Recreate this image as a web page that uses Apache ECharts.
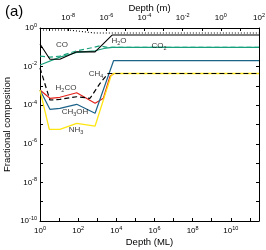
<!DOCTYPE html>
<html><head><meta charset="utf-8">
<script src="https://cdn.jsdelivr.net/npm/echarts@6/dist/echarts.min.js"></script>
<style>html,body{margin:0;padding:0;background:#fff}#c{width:266px;height:250px}</style>
</head><body><div id="c"></div>
<script>
// ---- data (depth in monolayers, fractional composition) ----
const depthMin = 1;
const depthMax = 3.0e11;
const metresPerML = 1 / 3.0e9;

const dottedDepth = [1, 29, 770, 3.0e11];
const dottedFrac  = [0.79, 0.79, 0.55, 0.55];

const h2oDepth = [1, 3.3, 11, 84, 770, 6000, 3.0e11];
const h2oFrac  = [0.148, 0.024, 0.024, 0.058, 0.058, 0.43, 0.43];

const coDepth = [1, 3.3, 11, 84, 530, 1400, 3700, 3.0e11];
const coFrac  = [0.035, 0.031, 0.035, 0.066, 0.095, 0.12, 0.098, 0.098];

const co2Depth = [1, 11, 84, 770, 2270, 6000, 3.0e11];
const co2Frac  = [0.0121, 0.031, 0.054, 0.066, 0.087, 0.098, 0.098];

const ch4Depth = [1, 3.3, 11, 84, 420, 1400, 3700, 3.0e11];
const ch4Frac  = [0.0085, 1.86e-4, 2.0e-4, 2.75e-4, 2.28e-4, 1.36e-3, 4.4e-3, 4.4e-3];

const h2coDepth = [1, 3.3, 11, 84, 770, 2100, 4700, 7600, 3.0e11];
const h2coFrac  = [6.1e-4, 2.28e-4, 2.57e-4, 4.4e-4, 1.25e-4, 2.28e-4, 3.2e-3, 4.4e-3, 4.4e-3];

const ch3ohDepth = [1, 3.3, 11, 84, 770, 7150, 3.0e11];
const ch3ohFrac  = [6.1e-4, 6.1e-5, 6.9e-5, 1.11e-4, 3.8e-5, 0.0202, 0.0202];

const nh3Depth = [1, 3.07, 11, 84, 770, 5300, 7150, 3.0e11];
const nh3Frac  = [6.1e-4, 5.6e-6, 5.6e-6, 1.15e-5, 8.3e-6, 3.3e-3, 4.4e-3, 4.4e-3];

const labelText  = ['CO', 'CO{sb|2}', 'H{sb|2}O', 'CH{sb|4}', 'H{sb|2}CO', 'CH{sb|3}OH', 'NH{sb|3}'];
const labelDepth = [14.3, 1.74e6, 13900, 864, 23, 68, 77];
const labelFrac  = [0.13, 0.117, 0.21, 0.00414, 7.8e-4, 4.4e-5, 5.2e-6];

const fracMinExp = -10, fracMaxExp = 0;

// ---- helpers ----
const FONT = 'Liberation Sans, Arial, Helvetica, sans-serif';
const L = Math.log10;
function pairs(d, f) { return d.map((x, i) => [L(x), L(f[i])]); }
function powLabel(v) {
  const r = Math.round(v);
  if (Math.abs(v - r) > 1e-6 || r % 2 !== 0) return '';
  return '{b|10}{s|' + (r < 0 ? '-' : '') + Math.abs(r) + '}';
}
const supRich = {
  b: { fontSize: 8, lineHeight: 12, fontFamily: FONT, color: '#000' },
  s: { fontSize: 5.5, lineHeight: 6, verticalAlign: 'top', fontFamily: FONT, color: '#000' }
};
const lineAxis = { show: true, onZero: false, lineStyle: { color: '#000', width: 1 } };
const tick = { show: true, inside: true, length: 3, lineStyle: { color: '#000', width: 1 } };
const nameStyle = { fontSize: 9.5, fontFamily: FONT, color: '#000' };

const chart = echarts.init(document.getElementById('c'), null, { renderer: 'canvas' });

function lineSeries(d, f, color, type, width, z) {
  return {
    type: 'line', data: pairs(d, f), symbol: 'none', silent: true, z: z,
    lineStyle: { color: color, width: width, type: type }
  };
}

chart.setOption({
  animation: false,
  title: { text: '(a)', left: 0, top: -1, textStyle: { fontSize: 15, fontWeight: 'normal', fontFamily: FONT, color: '#000' } },
  grid: { left: 40, right: 7, top: 28, bottom: 29, containLabel: false, outerBoundsMode: 'none' },
  xAxis: [
    {
      type: 'value', position: 'bottom', min: L(depthMin), max: L(depthMax), interval: 1,
      name: 'Depth (ML)', nameLocation: 'middle', nameGap: 16, nameMoveOverlap: false,
      nameTextStyle: nameStyle,
      axisLine: lineAxis, axisTick: tick, splitLine: { show: false },
      axisLabel: { margin: 4, formatter: powLabel, rich: supRich }
    },
    {
      type: 'value', position: 'top', min: L(depthMin * metresPerML), max: L(depthMax * metresPerML),
      splitNumber: 11, minInterval: 1, maxInterval: 1,
      name: 'Depth (m)', nameLocation: 'middle', nameGap: 15, nameMoveOverlap: false,
      nameTextStyle: nameStyle,
      axisLine: lineAxis, axisTick: tick, splitLine: { show: false },
      axisLabel: { margin: 4, formatter: powLabel, rich: supRich }
    }
  ],
  yAxis: [
    {
      type: 'value', position: 'left', min: fracMinExp, max: fracMaxExp, interval: 1,
      name: 'Fractional composition', nameLocation: 'middle', nameGap: 28, nameMoveOverlap: false,
      nameTextStyle: nameStyle,
      axisLine: lineAxis, axisTick: tick, splitLine: { show: false },
      axisLabel: { margin: 3, formatter: powLabel, rich: supRich }
    },
    {
      type: 'value', position: 'right', min: fracMinExp, max: fracMaxExp, interval: 1,
      axisLine: lineAxis, axisTick: tick, splitLine: { show: false },
      axisLabel: { show: false }
    }
  ],
  series: [
    lineSeries(h2coDepth, h2coFrac, '#e3241c', 'solid', 1.2, 2),
    lineSeries(ch3ohDepth, ch3ohFrac, '#1c6389', 'solid', 1.2, 3),
    lineSeries(nh3Depth, nh3Frac, '#ffe512', 'solid', 1.3, 4),
    lineSeries(ch4Depth, ch4Frac, '#000', [5, 3], 1.2, 5),
    lineSeries(co2Depth, co2Frac, '#17a07c', 'solid', 1.2, 6),
    lineSeries(coDepth, coFrac, '#17a07c', [5, 3], 1.2, 7),
    lineSeries(h2oDepth, h2oFrac, '#000', 'solid', 1.1, 8),
    lineSeries(dottedDepth, dottedFrac, '#000', [1, 2], 1.1, 9),
    {
      type: 'scatter', silent: true, symbolSize: 0, z: 10,
      data: labelText.map((t, i) => ({ value: [L(labelDepth[i]), L(labelFrac[i])], name: t })),
      label: {
        show: true, position: 'inside', formatter: p => '{n|' + p.name.replace(/\{sb\|(\d)\}/g, '}{sb|$1}{n|') + '}',
        rich: {
          n: { fontSize: 8, lineHeight: 11, fontFamily: FONT, color: '#000' },
          sb: { fontSize: 5.5, lineHeight: 6, verticalAlign: 'bottom', fontFamily: FONT, color: '#000' }
        }
      }
    }
  ]
});
</script>
</body></html>
